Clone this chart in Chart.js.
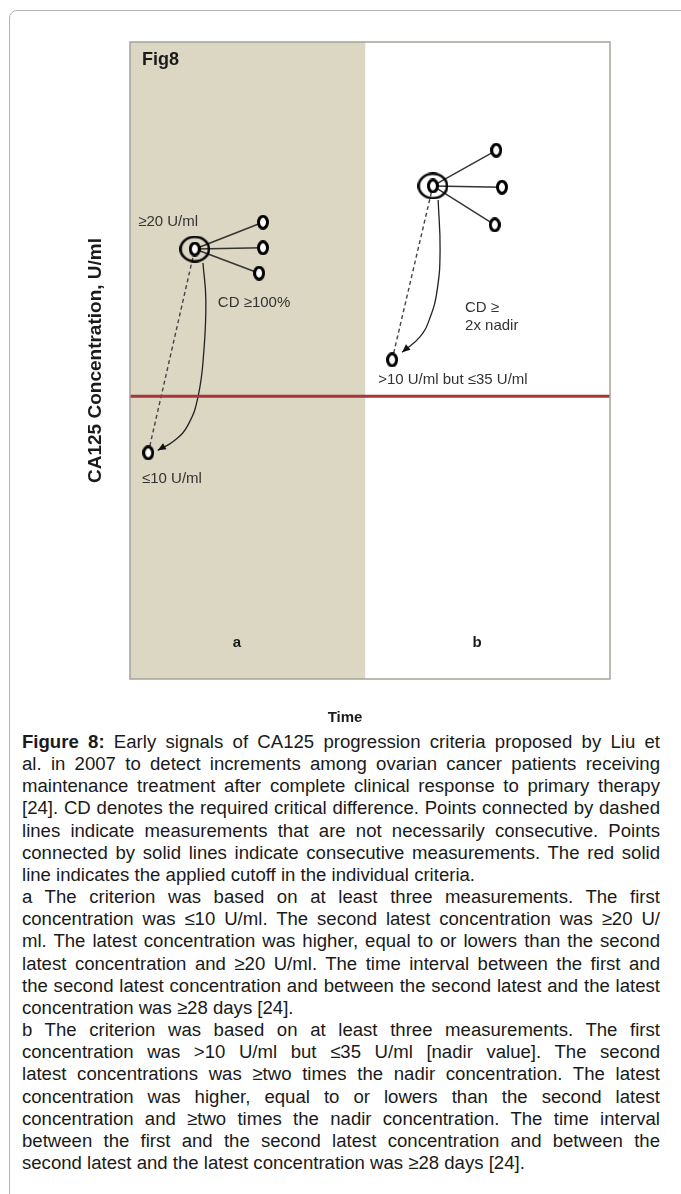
<!DOCTYPE html>
<html>
<head>
<meta charset="utf-8">
<script src="https://cdn.jsdelivr.net/npm/chart.js@4.4.1/dist/chart.umd.min.js"></script>
<style>
  html, body { margin: 0; padding: 0; background: #fff; }
  body { width: 681px; height: 1194px; position: relative; overflow: hidden; font-family: "Liberation Sans", Arial, sans-serif; }
  #card { position: absolute; left: 9px; top: 10px; width: 720px; height: 1300px; border: 1px solid #b4b4b4; border-radius: 8px; box-sizing: border-box; }
  #chartWrap { position: absolute; left: 0; top: 0; width: 681px; height: 727px; }
  #caption { position: absolute; left: 22px; top: 731px; width: 638px; color: #1a1a1a; line-height: 22.15px; }
  #caption div { text-align: justify; text-align-last: justify; }
  #caption div.end { text-align-last: left; }
</style>
</head>
<body>
<div id="card"></div>
<div id="chartWrap"><canvas id="fig8" width="681" height="727"></canvas></div>
<div id="caption"></div>
<script>
// Panel a: first (<=10), second latest (>=20), three possible latest values
const aPointX = [3.8, 13.5, 27.7, 27.7, 26.9];
const aPointY = [35.5, 67.5, 71.7, 67.7, 63.7];
// Panel b: nadir, second latest (>=2x nadir), three possible latest values
const bPointX = [54.6, 63.1, 76.3, 77.5, 76.0];
const bPointY = [50.1, 77.4, 83.0, 77.2, 71.3];

// CD arrows
const aCurveX = [15.2, 15.8, 15.4, 14.2, 12.1, 9.2, 5.8];
const aCurveY = [65.3, 59.5, 51.6, 44.4, 39.9, 37.4, 35.9];
const bCurveX = [64.2, 64.6, 64.0, 62.5, 60.4, 56.7];
const bCurveY = [75.2, 67.3, 61.1, 56.7, 53.7, 51.3];

const cutoffY = 44.4;     // red cutoff line
const shadeEndX = 49;     // panel a background ends here

// Annotations
const noteText = ['≥20 U/ml', 'CD ≥100%', '≤10 U/ml', 'CD ≥', '2x nadir', '>10 U/ml but ≤35 U/ml'];
const noteX = [1.7, 18.3, 2.5, 69.8, 69.8, 51.7];
const noteY = [71.7, 59.0, 31.4, 58.2, 55.4, 46.9];
const panelText = ['a', 'b', 'Time'];
const panelX = [22.3, 72.3, 44.8];
const panelY = [5.7, 5.7, -6.1];

const captionLines = [
    'Figure 8: Early signals of CA125 progression criteria proposed by Liu et',
    'al. in 2007 to detect increments among ovarian cancer patients receiving',
    'maintenance treatment after complete clinical response to primary therapy',
    '[24]. CD denotes the required critical difference. Points connected by dashed',
    'lines indicate measurements that are not necessarily consecutive. Points',
    'connected by solid lines indicate consecutive measurements. The red solid',
    'line indicates the applied cutoff in the individual criteria.',
    'a The criterion was based on at least three measurements. The first',
    'concentration was ≤10 U/ml. The second latest concentration was ≥20 U/',
    'ml. The latest concentration was higher, equal to or lowers than the second',
    'latest concentration and ≥20 U/ml. The time interval between the first and',
    'the second latest concentration and between the second latest and the latest',
    'concentration was ≥28 days [24].',
    'b The criterion was based on at least three measurements. The first',
    'concentration was >10 U/ml but ≤35 U/ml [nadir value]. The second',
    'latest concentrations was ≥two times the nadir concentration. The latest',
    'concentration was higher, equal to or lowers than the second latest',
    'concentration and ≥two times the nadir concentration. The time interval',
    'between the first and the second latest concentration and between the',
    'second latest and the latest concentration was ≥28 days [24].'
];
const paraEnds = [6, 12, 19];

const pts = (xs, ys) => xs.map((x, i) => ({x: x, y: ys[i]}));
const aPts = pts(aPointX, aPointY);
const bPts = pts(bPointX, bPointY);

// "O" shaped markers
function makeEllipse(w, h, lw, fill) {
    const c = document.createElement('canvas');
    c.width = w; c.height = h;
    const g = c.getContext('2d');
    g.lineWidth = lw;
    g.strokeStyle = '#000';
    g.beginPath();
    g.ellipse(w / 2, h / 2, w / 2 - lw / 2, h / 2 - lw / 2, 0, 0, Math.PI * 2);
    if (fill) { g.fillStyle = fill; g.fill(); }
    g.stroke();
    return c;
}
const oMark = makeEllipse(12, 15, 3, '#fff');
const ringMark = makeEllipse(31, 27, 2.6, null);

const lineDs = (data, extra) => Object.assign({
    data: data, showLine: true, pointRadius: 0, borderColor: '#333', borderWidth: 1.4, order: 3
}, extra);

const datasets = [
    { data: aPts.concat(bPts), pointStyle: oMark, showLine: false, order: 0 },
    { data: [aPts[1], bPts[1]], pointStyle: ringMark, showLine: false, order: 1 }
];
[2, 3, 4].forEach(i => {
    datasets.push(lineDs([aPts[1], aPts[i]]));
    datasets.push(lineDs([bPts[1], bPts[i]]));
});
datasets.push(lineDs([aPts[0], aPts[1]], { borderDash: [4, 3], borderColor: '#444' }));
datasets.push(lineDs([bPts[0], bPts[1]], { borderDash: [4, 3], borderColor: '#444' }));
datasets.push(lineDs(pts(aCurveX, aCurveY), { tension: 0.45, borderColor: '#222', borderWidth: 1.3, arrow: true }));
datasets.push(lineDs(pts(bCurveX, bCurveY), { tension: 0.45, borderColor: '#222', borderWidth: 1.3, arrow: true }));
datasets.push(lineDs([{x: 0, y: cutoffY}, {x: 100, y: cutoffY}], { borderColor: '#a3373a', borderWidth: 3, order: 2 }));

const figDecor = {
    id: 'figDecor',
    beforeDatasetsDraw(chart) {
        const {ctx, chartArea: a, scales: {x}} = chart;
        ctx.save();
        ctx.fillStyle = '#dbd7c3';
        ctx.fillRect(a.left, a.top, x.getPixelForValue(shadeEndX) - a.left, a.bottom - a.top);
        ctx.restore();
    },
    afterDatasetsDraw(chart) {
        const {ctx, chartArea: a, scales: {x, y}} = chart;
        ctx.save();
        // box
        ctx.strokeStyle = '#a4a49a';
        ctx.lineWidth = 1.5;
        ctx.strokeRect(a.left, a.top, a.right - a.left, a.bottom - a.top);

        // arrow heads on the CD curves
        chart.data.datasets.forEach((ds, i) => {
            if (!ds.arrow) return;
            const el = chart.getDatasetMeta(i).data;
            const p1 = el[el.length - 1], p0 = el[el.length - 2];
            const ang = Math.atan2(p1.y - p0.y, p1.x - p0.x);
            ctx.fillStyle = '#111';
            ctx.beginPath();
            ctx.moveTo(p1.x, p1.y);
            ctx.lineTo(p1.x - 8 * Math.cos(ang) + 3.5 * Math.sin(ang), p1.y - 8 * Math.sin(ang) - 3.5 * Math.cos(ang));
            ctx.lineTo(p1.x - 8 * Math.cos(ang) - 3.5 * Math.sin(ang), p1.y - 8 * Math.sin(ang) + 3.5 * Math.cos(ang));
            ctx.closePath();
            ctx.fill();
        });

        ctx.textBaseline = 'middle';
        ctx.fillStyle = '#333';
        ctx.font = '15px "Liberation Sans", Arial, sans-serif';
        ctx.textAlign = 'left';
        noteText.forEach((t, i) => ctx.fillText(t, x.getPixelForValue(noteX[i]), y.getPixelForValue(noteY[i])));

        ctx.fillStyle = '#1a1a1a';
        ctx.font = 'bold 15px "Liberation Sans", Arial, sans-serif';
        ctx.textAlign = 'center';
        panelText.forEach((t, i) => ctx.fillText(t, x.getPixelForValue(panelX[i]), y.getPixelForValue(panelY[i])));

        ctx.textAlign = 'left';
        ctx.font = 'bold 18px "Liberation Sans", Arial, sans-serif';
        ctx.fillText('Fig8', x.getPixelForValue(2.5), y.getPixelForValue(97.2));
        ctx.restore();
    }
};

new Chart(document.getElementById('fig8'), {
    type: 'scatter',
    data: { datasets: datasets },
    options: {
        responsive: false,
        animation: false,
        events: [],
        layout: { padding: { left: 84, right: 71, top: 42, bottom: 48 } },
        plugins: { legend: { display: false }, tooltip: { enabled: false } },
        scales: {
            x: { type: 'linear', min: 0, max: 100, display: false },
            y: {
                type: 'linear', min: 0, max: 100,
                ticks: { display: false },
                grid: { display: false },
                border: { display: false },
                title: {
                    display: true,
                    text: 'CA125 Concentration, U/ml',
                    color: '#1a1a1a',
                    font: { family: '"Liberation Sans", Arial, sans-serif', size: 19, weight: 'bold' },
                    padding: 0
                },
                afterFit(scale) { scale.width = 46; }
            }
        }
    },
    plugins: [figDecor]
});

// Caption, one justified line per row
const measure = document.createElement('canvas').getContext('2d');
const capFont = '"Liberation Sans", Arial, sans-serif';
let widest = 0;
captionLines.forEach((t, i) => {
    measure.font = '16px ' + capFont;
    let w = measure.measureText(t).width;
    if (i === 0) {
        const plain = measure.measureText('Figure 8:').width;
        measure.font = 'bold 16px ' + capFont;
        w += measure.measureText('Figure 8:').width - plain;
    }
    widest = Math.max(widest, w);
});
const cap = document.getElementById('caption');
cap.style.fontSize = (16 * 632 / widest).toFixed(2) + 'px';
captionLines.forEach((t, i) => {
    const d = document.createElement('div');
    if (paraEnds.includes(i)) d.className = 'end';
    if (i === 0) {
        const b = document.createElement('b');
        b.textContent = 'Figure 8:';
        d.appendChild(b);
        d.appendChild(document.createTextNode(t.slice(9)));
    } else {
        d.textContent = t;
    }
    cap.appendChild(d);
});
</script>
</body>
</html>
